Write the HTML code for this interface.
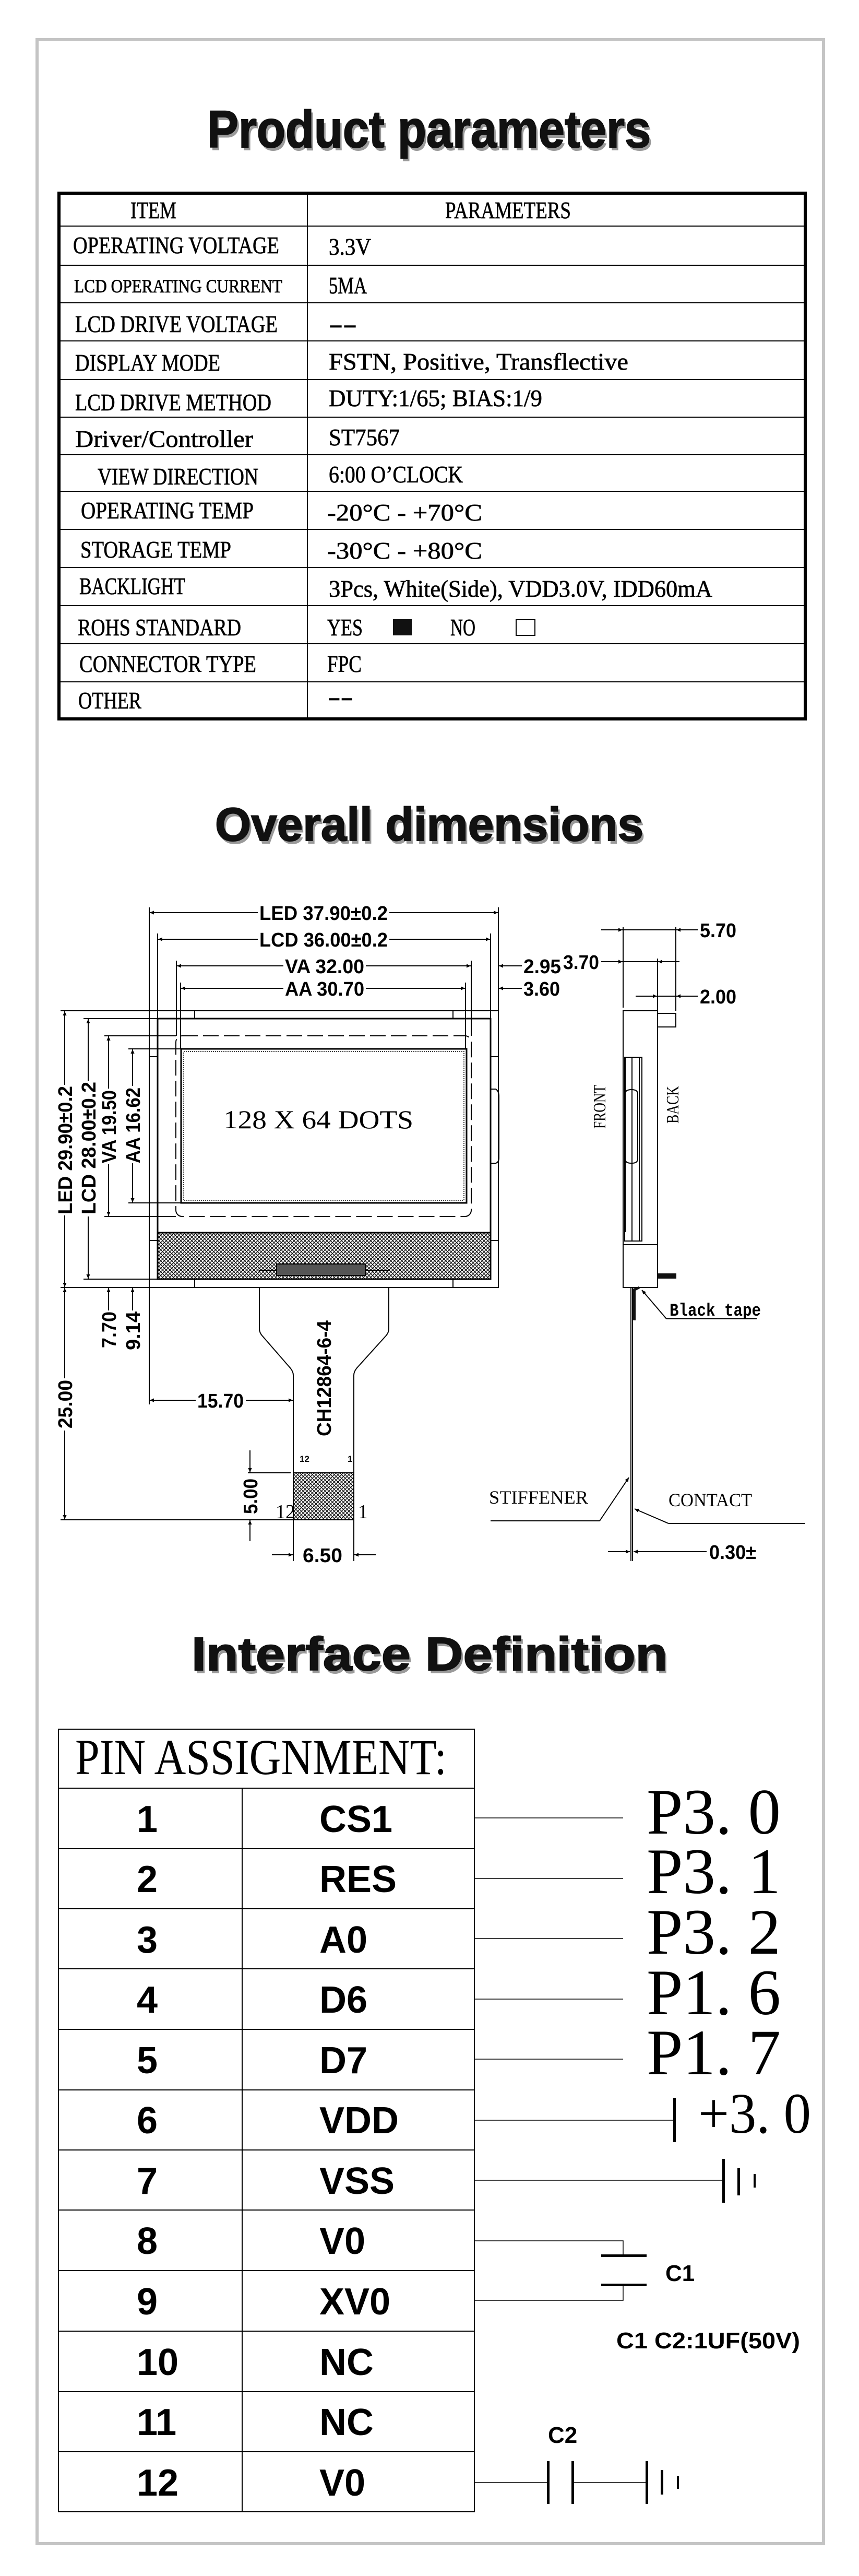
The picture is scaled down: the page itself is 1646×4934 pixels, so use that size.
<!DOCTYPE html>
<html><head><meta charset="utf-8"><style>html,body{margin:0;padding:0;background:#fff}svg{display:block}</style></head>
<body>
<svg xmlns="http://www.w3.org/2000/svg" width="1646" height="4934" viewBox="0 0 1646 4934">
<defs>
<marker id="a" viewBox="0 0 10 10" refX="10" refY="5" markerWidth="20" markerHeight="8" markerUnits="userSpaceOnUse" orient="auto-start-reverse"><path d="M0,0.5 L10,5 L0,9.5z" fill="#000"/></marker>
<pattern id="h" width="7" height="7" patternUnits="userSpaceOnUse"><rect width="7" height="7" fill="#fff"/><path d="M0,0 L7,7 M7,0 L0,7" stroke="#000" stroke-width="1.3"/></pattern>
</defs>
<rect width="1646" height="4934" fill="#fff"/>
<rect x="71" y="76" width="1507" height="4796" fill="none" stroke="#c4c4c4" stroke-width="6"/>

<!-- Titles -->
<g font-family="Liberation Sans, sans-serif" font-weight="bold">
<text x="401" y="288" font-size="100" fill="#9a9a9a" textLength="850" lengthAdjust="spacingAndGlyphs">Product parameters</text>
<text x="397" y="282" font-size="100" fill="#111" stroke="#111" stroke-width="2" textLength="850" lengthAdjust="spacingAndGlyphs">Product parameters</text>
<text x="416" y="1616" font-size="90" fill="#9a9a9a" textLength="821" lengthAdjust="spacingAndGlyphs">Overall dimensions</text>
<text x="412" y="1610" font-size="90" fill="#111" stroke="#111" stroke-width="2" textLength="821" lengthAdjust="spacingAndGlyphs">Overall dimensions</text>
<text x="371" y="3205" font-size="90" fill="#9a9a9a" textLength="912" lengthAdjust="spacingAndGlyphs">Interface Definition</text>
<text x="367" y="3199" font-size="90" fill="#111" stroke="#111" stroke-width="2" textLength="912" lengthAdjust="spacingAndGlyphs">Interface Definition</text>
</g>

<!-- Product parameters table -->
<g stroke="#000" fill="none">
<rect x="113" y="370" width="1430" height="1007" stroke-width="6"/>
<line x1="589" y1="370" x2="589" y2="1377" stroke-width="2"/>
<g stroke-width="2">
<line x1="113" y1="433" x2="1543" y2="433"/><line x1="113" y1="508" x2="1543" y2="508"/>
<line x1="113" y1="580" x2="1543" y2="580"/><line x1="113" y1="653" x2="1543" y2="653"/>
<line x1="113" y1="727" x2="1543" y2="727"/><line x1="113" y1="799" x2="1543" y2="799"/>
<line x1="113" y1="871" x2="1543" y2="871"/><line x1="113" y1="941" x2="1543" y2="941"/>
<line x1="113" y1="1014" x2="1543" y2="1014"/><line x1="113" y1="1087" x2="1543" y2="1087"/>
<line x1="113" y1="1160" x2="1543" y2="1160"/><line x1="113" y1="1233" x2="1543" y2="1233"/>
<line x1="113" y1="1306" x2="1543" y2="1306"/>
</g>
</g>
<g font-family="Liberation Serif, serif" font-size="46" fill="#000" stroke="#000" stroke-width="0.7">
<text x="250" y="418" textLength="88" lengthAdjust="spacingAndGlyphs">ITEM</text>
<text x="853" y="418" textLength="241" lengthAdjust="spacingAndGlyphs">PARAMETERS</text>
<text x="140" y="485" textLength="395" lengthAdjust="spacingAndGlyphs">OPERATING VOLTAGE</text>
<text x="630" y="488" textLength="81" lengthAdjust="spacingAndGlyphs">3.3V</text>
<text x="142" y="560" font-size="36" textLength="399" lengthAdjust="spacingAndGlyphs">LCD OPERATING CURRENT</text>
<text x="630" y="562" textLength="73" lengthAdjust="spacingAndGlyphs">5MA</text>
<text x="144" y="636" textLength="388" lengthAdjust="spacingAndGlyphs">LCD DRIVE VOLTAGE</text>
<text x="630" y="636" textLength="54" lengthAdjust="spacingAndGlyphs">--</text>
<text x="144" y="710" textLength="278" lengthAdjust="spacingAndGlyphs">DISPLAY MODE</text>
<text x="630" y="708" textLength="574" lengthAdjust="spacingAndGlyphs">FSTN, Positive, Transflective</text>
<text x="144" y="786" textLength="376" lengthAdjust="spacingAndGlyphs">LCD DRIVE METHOD</text>
<text x="630" y="778" textLength="409" lengthAdjust="spacingAndGlyphs">DUTY:1/65; BIAS:1/9</text>
<text x="144" y="856" textLength="341" lengthAdjust="spacingAndGlyphs">Driver/Controller</text>
<text x="630" y="853" textLength="136" lengthAdjust="spacingAndGlyphs">ST7567</text>
<text x="187" y="928" textLength="308" lengthAdjust="spacingAndGlyphs">VIEW DIRECTION</text>
<text x="630" y="924" textLength="257" lengthAdjust="spacingAndGlyphs">6:00 O’CLOCK</text>
<text x="155" y="993" textLength="331" lengthAdjust="spacingAndGlyphs">OPERATING TEMP</text>
<text x="627" y="997" textLength="297" lengthAdjust="spacingAndGlyphs">-20°C - +70°C</text>
<text x="154" y="1068" textLength="289" lengthAdjust="spacingAndGlyphs">STORAGE TEMP</text>
<text x="627" y="1070" textLength="297" lengthAdjust="spacingAndGlyphs">-30°C - +80°C</text>
<text x="152" y="1138" textLength="203" lengthAdjust="spacingAndGlyphs">BACKLIGHT</text>
<text x="630" y="1143" textLength="735" lengthAdjust="spacingAndGlyphs">3Pcs, White(Side), VDD3.0V, IDD60mA</text>
<text x="149" y="1217" textLength="313" lengthAdjust="spacingAndGlyphs">ROHS STANDARD</text>
<text x="627" y="1217" textLength="68" lengthAdjust="spacingAndGlyphs">YES</text>
<text x="863" y="1217" textLength="48" lengthAdjust="spacingAndGlyphs">NO</text>
<text x="152" y="1287" textLength="339" lengthAdjust="spacingAndGlyphs">CONNECTOR TYPE</text>
<text x="627" y="1287" textLength="66" lengthAdjust="spacingAndGlyphs">FPC</text>
<text x="150" y="1357" textLength="121" lengthAdjust="spacingAndGlyphs">OTHER</text>
<text x="628" y="1350" textLength="49" lengthAdjust="spacingAndGlyphs">--</text>
</g>
<rect x="753" y="1186" width="36" height="31" fill="#111"/>
<rect x="989" y="1187" width="36" height="30" fill="none" stroke="#000" stroke-width="2"/>

<!-- Overall dimensions: front view -->
<g stroke="#000" fill="none" stroke-width="2">
<line x1="286" y1="1738" x2="286" y2="2690"/><line x1="955" y1="1738" x2="955" y2="1936"/>
<line x1="302" y1="1788" x2="302" y2="1951"/><line x1="940" y1="1788" x2="940" y2="1951"/>
<line x1="338" y1="1840" x2="338" y2="1984"/><line x1="903" y1="1840" x2="903" y2="1984"/>
<line x1="346" y1="1882" x2="346" y2="2009"/><line x1="892" y1="1882" x2="892" y2="2009"/>
<line x1="287" y1="1748" x2="954" y2="1748" marker-start="url(#a)" marker-end="url(#a)"/>
<line x1="303" y1="1799" x2="939" y2="1799" marker-start="url(#a)" marker-end="url(#a)"/>
<line x1="339" y1="1850" x2="902" y2="1850" marker-start="url(#a)" marker-end="url(#a)"/>
<line x1="347" y1="1893" x2="891" y2="1893" marker-start="url(#a)" marker-end="url(#a)"/>
<line x1="1000" y1="1850" x2="956" y2="1850" marker-end="url(#a)"/>
<line x1="1000" y1="1893" x2="956" y2="1893" marker-end="url(#a)"/>
<rect x="286" y="1936" width="669" height="530"/>
<rect x="302" y="1951" width="638" height="499" stroke-width="3"/>
<line x1="373" y1="1936" x2="373" y2="1951"/><line x1="868" y1="1936" x2="868" y2="1951"/>
<line x1="373" y1="2450" x2="373" y2="2466"/><line x1="868" y1="2450" x2="868" y2="2466"/>
<line x1="286" y1="2024" x2="302" y2="2024"/><line x1="286" y1="2376" x2="302" y2="2376"/>
<line x1="940" y1="2024" x2="955" y2="2024"/><line x1="940" y1="2376" x2="955" y2="2376"/>
<path d="M940,2086 H950 Q956,2090 956,2100 V2218 Q956,2226 950,2228 H940"/>
<rect x="337" y="1984" width="566" height="346" rx="12" stroke-dasharray="30,10"/>
<rect x="347" y="2009" width="547" height="295" stroke-width="3"/>
<rect x="352" y="2014" width="537" height="285" stroke-width="1.5" stroke-dasharray="2,2"/>
<line x1="116" y1="1936" x2="286" y2="1936"/>
<line x1="160" y1="1951" x2="302" y2="1951"/>
<line x1="200" y1="1984" x2="337" y2="1984"/>
<line x1="246" y1="2009" x2="347" y2="2009"/>
<line x1="246" y1="2304" x2="347" y2="2304"/>
<line x1="200" y1="2330" x2="337" y2="2330"/>
<line x1="160" y1="2450" x2="302" y2="2450"/>
<line x1="116" y1="2466" x2="286" y2="2466"/>
<line x1="116" y1="2911" x2="562" y2="2911"/>
<line x1="124" y1="1937" x2="124" y2="2465" marker-start="url(#a)" marker-end="url(#a)"/>
<line x1="169" y1="1952" x2="169" y2="2449" marker-start="url(#a)" marker-end="url(#a)"/>
<line x1="208" y1="1985" x2="208" y2="2329" marker-start="url(#a)" marker-end="url(#a)"/>
<line x1="254" y1="2010" x2="254" y2="2303" marker-start="url(#a)" marker-end="url(#a)"/>
<line x1="208" y1="2510" x2="208" y2="2467" marker-end="url(#a)"/>
<line x1="254" y1="2510" x2="254" y2="2467" marker-end="url(#a)"/>
<line x1="124" y1="2467" x2="124" y2="2910" marker-start="url(#a)" marker-end="url(#a)"/>
<path d="M497,2466 V2545 Q497,2552 502,2558 L556,2620 Q562,2627 562,2634 V2911 M745,2466 V2545 Q745,2552 740,2558 L684,2620 Q678,2627 678,2634 V2911"/>
<line x1="287" y1="2682" x2="561" y2="2682" marker-start="url(#a)" marker-end="url(#a)"/>
<line x1="475" y1="2821" x2="557" y2="2821"/>
<line x1="479" y1="2778" x2="479" y2="2820" marker-end="url(#a)"/>
<line x1="479" y1="2952" x2="479" y2="2912" marker-end="url(#a)"/>
<line x1="562" y1="2911" x2="562" y2="2990"/><line x1="678" y1="2911" x2="678" y2="2990"/>
<line x1="521" y1="2978" x2="561" y2="2978" marker-end="url(#a)"/>
<line x1="720" y1="2978" x2="679" y2="2978" marker-end="url(#a)"/>
</g>
<rect x="302" y="2361" width="638" height="89" fill="url(#h)" stroke="#000" stroke-width="3"/>
<rect x="562" y="2821" width="116" height="90" fill="url(#h)" stroke="#000" stroke-width="2"/>
<g stroke="#000" stroke-width="2"><line x1="496" y1="2433" x2="743" y2="2433"/><rect x="530" y="2421" width="170" height="22" fill="#555"/></g>

<g fill="#fff">
<rect x="494" y="1728" width="252" height="40"/><rect x="494" y="1779" width="252" height="40"/>
<rect x="543" y="1830" width="158" height="40"/><rect x="543" y="1873" width="158" height="40"/>
<rect x="104" y="2078" width="40" height="250"/><rect x="149" y="2070" width="40" height="260"/>
<rect x="188" y="2085" width="40" height="145"/><rect x="234" y="2080" width="40" height="148"/>
<rect x="104" y="2640" width="40" height="100"/><rect x="375" y="2662" width="96" height="40"/>
<rect x="459" y="2828" width="40" height="76"/><rect x="577" y="2958" width="84" height="40"/>
</g>
<g font-family="Liberation Sans, sans-serif" font-weight="bold" font-size="38" fill="#000">
<text x="497" y="1762" textLength="246" lengthAdjust="spacingAndGlyphs">LED 37.90±0.2</text>
<text x="497" y="1813" textLength="246" lengthAdjust="spacingAndGlyphs">LCD 36.00±0.2</text>
<text x="546" y="1864" textLength="152" lengthAdjust="spacingAndGlyphs">VA 32.00</text>
<text x="546" y="1907" textLength="152" lengthAdjust="spacingAndGlyphs">AA 30.70</text>
<text x="1003" y="1864" textLength="72" lengthAdjust="spacingAndGlyphs">2.95</text>
<text x="1003" y="1907" textLength="70" lengthAdjust="spacingAndGlyphs">3.60</text>
<text x="1079" y="1856" textLength="69" lengthAdjust="spacingAndGlyphs">3.70</text>
<text x="1341" y="1795" textLength="70" lengthAdjust="spacingAndGlyphs">5.70</text>
<text x="1341" y="1922" textLength="70" lengthAdjust="spacingAndGlyphs">2.00</text>
<text transform="translate(138,2326) rotate(-90)" textLength="246" lengthAdjust="spacingAndGlyphs">LED 29.90±0.2</text>
<text transform="translate(183,2326) rotate(-90)" textLength="254" lengthAdjust="spacingAndGlyphs">LCD 28.00±0.2</text>
<text transform="translate(222,2228) rotate(-90)" textLength="140" lengthAdjust="spacingAndGlyphs">VA 19.50</text>
<text transform="translate(268,2228) rotate(-90)" textLength="145" lengthAdjust="spacingAndGlyphs">AA 16.62</text>
<text transform="translate(222,2582) rotate(-90)" textLength="70" lengthAdjust="spacingAndGlyphs">7.70</text>
<text transform="translate(268,2586) rotate(-90)" textLength="74" lengthAdjust="spacingAndGlyphs">9.14</text>
<text transform="translate(138,2736) rotate(-90)" textLength="93" lengthAdjust="spacingAndGlyphs">25.00</text>
<text transform="translate(493,2900) rotate(-90)" textLength="68" lengthAdjust="spacingAndGlyphs">5.00</text>
<text transform="translate(634,2751) rotate(-90)" textLength="222" lengthAdjust="spacingAndGlyphs">CH12864-6-4</text>
<text x="378" y="2696" textLength="89" lengthAdjust="spacingAndGlyphs">15.70</text>
<text x="580" y="2992" textLength="76" lengthAdjust="spacingAndGlyphs">6.50</text>
<text x="1359" y="2986" textLength="90" lengthAdjust="spacingAndGlyphs">0.30±</text>
<text x="574" y="2800" font-size="17">12</text><text x="666" y="2800" font-size="17">1</text>
</g>
<g font-family="Liberation Serif, serif" fill="#000">
<text x="428" y="2161" font-size="50" textLength="364" lengthAdjust="spacingAndGlyphs">128 X 64 DOTS</text>
<text x="528" y="2908" font-size="38">12</text><text x="686" y="2908" font-size="38">1</text>
<text transform="translate(1160,2162) rotate(-90)" font-size="34" textLength="84" lengthAdjust="spacingAndGlyphs">FRONT</text>
<text transform="translate(1300,2152) rotate(-90)" font-size="34" textLength="72" lengthAdjust="spacingAndGlyphs">BACK</text>
<text x="1283" y="2520" font-size="34" font-family="Liberation Mono, monospace" font-weight="bold" textLength="175" lengthAdjust="spacingAndGlyphs">Black tape</text>
<text x="937" y="2880" font-size="36" textLength="190" lengthAdjust="spacingAndGlyphs">STIFFENER</text>
<text x="1281" y="2885" font-size="36" textLength="160" lengthAdjust="spacingAndGlyphs">CONTACT</text>
</g>

<g stroke="#000" fill="none" stroke-width="2">
<line x1="1152" y1="1781" x2="1193" y2="1781" marker-end="url(#a)"/>
<line x1="1194" y1="1781" x2="1295" y2="1781"/>
<line x1="1337" y1="1781" x2="1296" y2="1781" marker-end="url(#a)"/>
<line x1="1152" y1="1842" x2="1193" y2="1842" marker-end="url(#a)"/>
<line x1="1194" y1="1842" x2="1302" y2="1842"/>
<line x1="1302" y1="1842" x2="1261" y2="1842" marker-end="url(#a)"/>
<line x1="1218" y1="1908" x2="1259" y2="1908" marker-end="url(#a)"/>
<line x1="1260" y1="1908" x2="1295" y2="1908"/>
<line x1="1337" y1="1908" x2="1296" y2="1908" marker-end="url(#a)"/>
<line x1="1194" y1="1776" x2="1194" y2="1930"/>
<line x1="1295" y1="1776" x2="1295" y2="1936"/>
<line x1="1260" y1="1836" x2="1260" y2="1936"/>
<rect x="1194" y="1936" width="66" height="530"/>
<rect x="1260" y="1941" width="35" height="26"/>
<path d="M1197,2025 H1230 V2377 H1197 Z M1198,2025 V2360 M1211,2025 V2377 M1225,2025 V2377"/>
<path d="M1198,2095 Q1198,2087 1210,2087 Q1222,2087 1222,2095 V2220 Q1222,2228 1210,2228 Q1198,2228 1198,2220 Z"/>
<line x1="1194" y1="2384" x2="1260" y2="2384"/>
<line x1="1209" y1="2466" x2="1209" y2="2990"/>
<line x1="1212" y1="2466" x2="1212" y2="2990"/>
<line x1="1277" y1="2526" x2="1230" y2="2471" marker-end="url(#a)"/>
<line x1="1277" y1="2526" x2="1450" y2="2526"/>
<line x1="1149" y1="2913" x2="1205" y2="2830" marker-end="url(#a)"/>
<line x1="940" y1="2913" x2="1149" y2="2913"/>
<line x1="1281" y1="2918" x2="1216" y2="2890" marker-end="url(#a)"/>
<line x1="1281" y1="2918" x2="1543" y2="2918"/>
<line x1="1165" y1="2972" x2="1207" y2="2972" marker-end="url(#a)"/>
<line x1="1354" y1="2972" x2="1214" y2="2972" marker-end="url(#a)"/>
</g>
<rect x="1261" y="2439" width="35" height="10" fill="#111"/>
<path d="M1211,2469 L1224,2464 L1226,2468 L1218,2472 V2529 H1212 Z" fill="#111"/>

<g stroke="#000" stroke-width="2" fill="none">
<rect x="112" y="3312" width="797" height="1499"/>
<line x1="112" y1="3425" x2="909" y2="3425"/>
<line x1="464" y1="3425" x2="464" y2="4811"/>
<line x1="112" y1="3541" x2="909" y2="3541"/><line x1="112" y1="3656" x2="909" y2="3656"/>
<line x1="112" y1="3771" x2="909" y2="3771"/><line x1="112" y1="3887" x2="909" y2="3887"/>
<line x1="112" y1="4003" x2="909" y2="4003"/><line x1="112" y1="4118" x2="909" y2="4118"/>
<line x1="112" y1="4233" x2="909" y2="4233"/><line x1="112" y1="4349" x2="909" y2="4349"/>
<line x1="112" y1="4465" x2="909" y2="4465"/><line x1="112" y1="4581" x2="909" y2="4581"/>
<line x1="112" y1="4696" x2="909" y2="4696"/>
<g stroke-width="1.5">
<line x1="909" y1="3482" x2="1194" y2="3482"/><line x1="909" y1="3598" x2="1194" y2="3598"/>
<line x1="909" y1="3713" x2="1194" y2="3713"/><line x1="909" y1="3829" x2="1194" y2="3829"/>
<line x1="909" y1="3944" x2="1194" y2="3944"/>
<line x1="909" y1="4061" x2="1293" y2="4061"/>
<line x1="909" y1="4176" x2="1386" y2="4176"/>
<path d="M909,4292 H1194 V4320 M1194,4377 V4406 H909"/>
<line x1="909" y1="4755" x2="1050" y2="4755"/><line x1="1097" y1="4755" x2="1239" y2="4755"/>
</g>
</g>
<g fill="#000">
<rect x="1290" y="4018" width="5" height="85"/>
<rect x="1384" y="4135" width="5" height="84"/><rect x="1413" y="4153" width="5" height="52"/><rect x="1444" y="4164" width="4" height="26"/>
<rect x="1152" y="4318" width="87" height="5"/><rect x="1152" y="4374" width="87" height="5"/>
<rect x="1048" y="4714" width="5" height="82"/><rect x="1095" y="4714" width="5" height="82"/>
<rect x="1237" y="4714" width="5" height="82"/><rect x="1266" y="4731" width="5" height="47"/><rect x="1297" y="4743" width="4" height="24"/>
</g>
<g font-family="Liberation Serif, serif" fill="#000">
<text x="144" y="3398" font-size="96" textLength="712" lengthAdjust="spacingAndGlyphs">PIN ASSIGNMENT:</text>
<text x="1239" y="3512" font-size="124" textLength="257" lengthAdjust="spacingAndGlyphs">P3. 0</text>
<text x="1239" y="3626" font-size="124" textLength="257" lengthAdjust="spacingAndGlyphs">P3. 1</text>
<text x="1239" y="3742" font-size="124" textLength="257" lengthAdjust="spacingAndGlyphs">P3. 2</text>
<text x="1239" y="3858" font-size="124" textLength="257" lengthAdjust="spacingAndGlyphs">P1. 6</text>
<text x="1239" y="3973" font-size="124" textLength="257" lengthAdjust="spacingAndGlyphs">P1. 7</text>
<text x="1338" y="4085" font-size="110" textLength="216" lengthAdjust="spacingAndGlyphs">+3. 0</text>
</g>
<g font-family="Liberation Sans, sans-serif" font-weight="bold" font-size="72" fill="#000">
<text x="262" y="3509">1</text><text x="612" y="3509">CS1</text>
<text x="262" y="3624">2</text><text x="612" y="3624">RES</text>
<text x="262" y="3740">3</text><text x="612" y="3740">A0</text>
<text x="262" y="3855">4</text><text x="612" y="3855">D6</text>
<text x="262" y="3971">5</text><text x="612" y="3971">D7</text>
<text x="262" y="4086">6</text><text x="612" y="4086">VDD</text>
<text x="262" y="4202">7</text><text x="612" y="4202">VSS</text>
<text x="262" y="4317">8</text><text x="612" y="4317">V0</text>
<text x="262" y="4433">9</text><text x="612" y="4433">XV0</text>
<text x="262" y="4549">10</text><text x="612" y="4549">NC</text>
<text x="262" y="4664">11</text><text x="612" y="4664">NC</text>
<text x="262" y="4780">12</text><text x="612" y="4780">V0</text>
<text x="1275" y="4369" font-size="44">C1</text>
<text x="1181" y="4498" font-size="44" textLength="352" lengthAdjust="spacingAndGlyphs">C1 C2:1UF(50V)</text>
<text x="1050" y="4679" font-size="44">C2</text>
</g>
</svg>
</body></html>
